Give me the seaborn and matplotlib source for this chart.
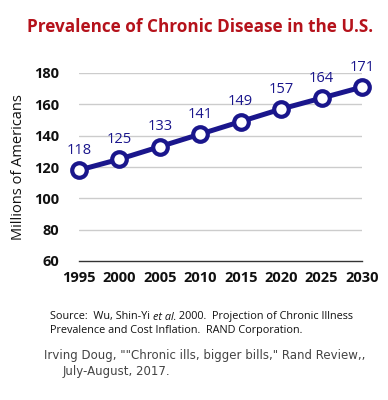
import pandas as pd
import seaborn as sns
import matplotlib.pyplot as plt

years = [1995, 2000, 2005, 2010, 2015, 2020, 2025, 2030]
millions = [118, 125, 133, 141, 149, 157, 164, 171]
y_ticks = [60, 80, 100, 120, 140, 160, 180]

NAVY = "#1a168c"
RED = "#b5121b"

sns.set_style("white")
plt.rcParams["font.family"] = ["Open Sans", "DejaVu Sans"]

df = pd.DataFrame({"year": years, "millions": millions})

fig = plt.figure(figsize=(3.88, 4.0), dpi=100)
ax = fig.add_axes([79 / 388, 139 / 400, 283 / 388, 188 / 400])

for t in y_ticks[1:]:
    ax.axhline(t, color="#cccccc", lw=1, zorder=0)

sns.lineplot(data=df, x="year", y="millions", ax=ax, color=NAVY, lw=3.6,
             marker="o", markersize=10.5, markerfacecolor="white",
             markeredgecolor=NAVY, markeredgewidth=3, clip_on=False, zorder=3)

for x, y in zip(years, millions):
    ax.annotate(str(y), (x, y), xytext=(0, 9), textcoords="offset points",
                ha="center", va="bottom", color=NAVY, fontsize=10.5)

ax.set_xlim(1995, 2030)
ax.set_ylim(60, 180)
ax.set_xticks(years)
ax.set_yticks(y_ticks)
ax.set_xticklabels([str(y) for y in years], fontweight="bold", fontsize=10.5)
ax.set_yticklabels([str(t) for t in y_ticks], fontweight="bold", fontsize=10.5)
ax.tick_params(axis="x", length=4, width=1, color="#333333", pad=3,
               labelcolor="#111111")
ax.tick_params(axis="y", length=0, pad=14, labelcolor="#111111")
ax.set_xlabel("")
ax.set_ylabel("Millions of Americans", fontsize=10.5, labelpad=6,
              color="#111111")
for s in ["top", "right", "left"]:
    ax.spines[s].set_visible(False)
ax.spines["bottom"].set_color("#333333")
ax.spines["bottom"].set_linewidth(1)

fig.text(0.515, 1 - 27 / 400, "Prevalence of Chronic Disease in the U.S.",
         ha="center", va="center", color=RED, fontsize=12.3, fontweight="bold")

# source line with italic "et al."
renderer = fig.canvas.get_renderer()
x0 = 50 / 388
y1 = 1 - 317 / 400
parts = [("Source:  Wu, Shin-Yi ", "normal"), ("et al.", "italic"),
         (" 2000.  Projection of Chronic Illness", "normal")]
for txt, style in parts:
    t = fig.text(x0, y1, txt, ha="left", va="center", fontsize=7.8,
                 style=style, color="#111111")
    bb = t.get_window_extent(renderer)
    x0 += bb.width / fig.bbox.width
fig.text(50 / 388, 1 - 330 / 400,
         "Prevalence and Cost Inflation.  RAND Corporation.",
         ha="left", va="center", fontsize=7.8, color="#111111")

fig.text(44 / 388, 1 - 356 / 400,
         "Irving Doug, \"\"Chronic ills, bigger bills,\" Rand Review,,",
         ha="left", va="center", fontsize=8.5, color="#444444",
         family="DejaVu Sans")
fig.text(63 / 388, 1 - 372 / 400, "July-August, 2017.",
         ha="left", va="center", fontsize=8.5, color="#444444",
         family="DejaVu Sans")

fig.savefig("out.png", dpi=100)
